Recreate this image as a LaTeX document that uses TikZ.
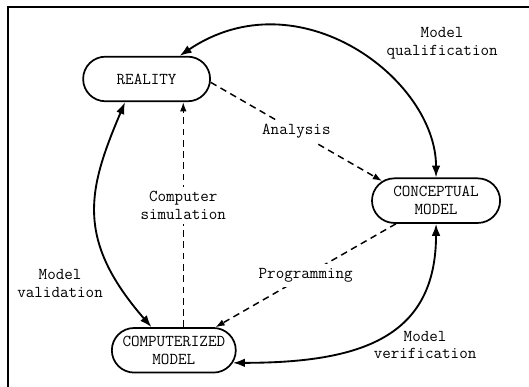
\documentclass[tikz,border=0pt]{standalone}
\usepackage{fontspec}
\usepackage{tikz}
\usetikzlibrary{shapes.misc}
\usetikzlibrary{arrows.meta}

\begin{document}
\begin{tikzpicture}[
  box/.style={rounded rectangle,draw,line width=1.3pt,inner xsep=-0.35cm,inner ysep=2pt,minimum height=1.18cm,align=center,font=\ttfamily\fontsize{12.5}{13.5}\selectfont},
  txt/.style={align=center,font=\ttfamily\fontsize{12.5}{13.5}\selectfont},
  loopline/.style={line width=1.4pt,{Latex[length=9pt,width=6.5pt]}-{Latex[length=9pt,width=6.5pt]}},
  dashline/.style={line width=1.1pt,dash pattern=on 5pt off 3.5pt,-{Latex[length=7pt,width=5pt]}}]
\useasboundingbox (0,0) rectangle (14,-10.24);
\draw[line width=1.5pt] (14,-0.19)--(0.2,-0.19)--(0.2,-10.24);
\path (3.88,-2.09) node(r)[box,minimum width=2.66cm]{REALITY}
(11.54,-5.31) node(c)[box,minimum width=2.69cm]{CONCEPTUAL\\MODEL}
(4.6,-9.27) node(m)[box,minimum width=2.58cm]{COMPUTERIZED\\MODEL}
(11.7,-1.14) node(q)[txt]{Model\\qualification}
(1.59,-7.51) node(v)[txt]{Model\\validation}
(11.25,-9.13) node(f)[txt]{Model\\verification};
\coordinate (t) at ([xshift=0.25cm]m.north);
% solid loops
\draw[loopline](c.north) .. controls +(90:2.6) and +(34:3.8) .. (r.35);
\draw[loopline](r.227) .. controls +(247:2.5) and +(131:3.1) .. (m.134);
\draw[loopline](m.-12) .. controls +(0:3.4) and +(270:3.0) .. (c.south);
% dashed
\draw[dashline](r.-3)--node(a)[txt,fill=white]{Analysis}(c.160);
\draw[dashline](c.210)--node(p)[txt,fill=white]{Programming}(m.29);
\draw[dashline](t)--node(s)[txt,fill=white,pos=0.54]{Computer\\simulation}(t |- r.south);

\end{tikzpicture}
\end{document}
